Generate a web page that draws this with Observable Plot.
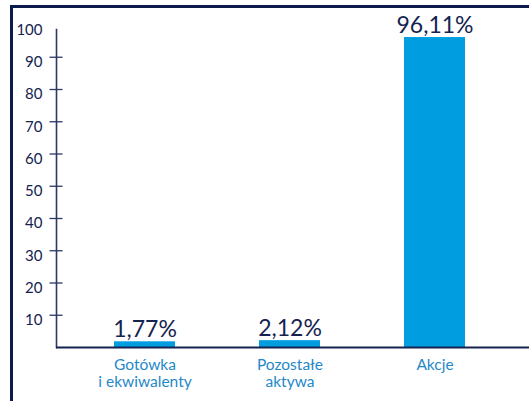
<!DOCTYPE html>
<html>
<head>
<meta charset="utf-8">
<script src="https://cdn.jsdelivr.net/npm/d3@7"></script>
<script src="https://cdn.jsdelivr.net/npm/@observablehq/plot@0.6"></script>
<style>
  html, body { margin: 0; padding: 0; background: #fff; }
  #wrap { position: relative; width: 529px; height: 401px; overflow: hidden; }
  #border { position: absolute; left: 10px; top: 5px; right: 0; bottom: 0;
            border-top: 3px solid #0d1b4c; border-left: 3px solid #0d1b4c; }
  #chart { position: absolute; left: 0; top: 0; }
  svg { font-family: Lato, "Open Sans", sans-serif; }
</style>
</head>
<body>
<div id="wrap"><div id="border"></div><div id="chart"></div></div>
<script>
const categories = ["Gotówka\ni ekwiwalenty", "Pozostałe\naktywa", "Akcje"];
const values = [1.77, 2.12, 96.11];
const valueLabels = ["1,77%", "2,12%", "96,11%"];
const yTicks = [10, 20, 30, 40, 50, 60, 70, 80, 90];
const yLabels = [10, 20, 30, 40, 50, 60, 70, 80, 90, 100];

const data = categories.map((c, i) => ({cat: c, value: values[i], label: valueLabels[i]}));

const navy = "#14234f";
const barBlue = "#009ee0";
const catBlue = "#1f88c8";

const chart = Plot.plot({
  width: 529,
  height: 401,
  marginLeft: 56,
  marginRight: 0,
  marginTop: 29,
  marginBottom: 54,
  style: {background: "transparent", fontFamily: "Lato, 'Open Sans', sans-serif"},
  x: {domain: categories, range: [114, 465], paddingInner: 0.58, paddingOuter: 0, label: null},
  y: {domain: [0, 100], range: [347, 24.5], label: null},
  marks: [
    Plot.barY(data, {x: "cat", y: "value", fill: barBlue}),
    Plot.frame({anchor: "left", stroke: "#2a3866", strokeWidth: 1.6}),
    Plot.ruleY([0], {stroke: navy, strokeWidth: 1.8}),
    Plot.axisY(yTicks, {anchor: "left", tickSize: 13, dx: 6.5, fill: "none", stroke: "#2a3866", strokeWidth: 1.3}),
    Plot.axisY(yLabels, {anchor: "left", tickSize: 0, tickPadding: 14, dy: 5, fill: navy, fontSize: 15, label: null}),
    Plot.axisX({anchor: "bottom", tickSize: 0, tickPadding: 11, fill: catBlue, fontSize: 15.5, lineHeight: 1.08, lineAnchor: "top", label: null}),
    Plot.text(data, {x: "cat", y: "value", text: "label", lineAnchor: "bottom", dy: -5, fill: navy, fontSize: 23})
  ]
});
document.getElementById("chart").appendChild(chart);
</script>
</body>
</html>
